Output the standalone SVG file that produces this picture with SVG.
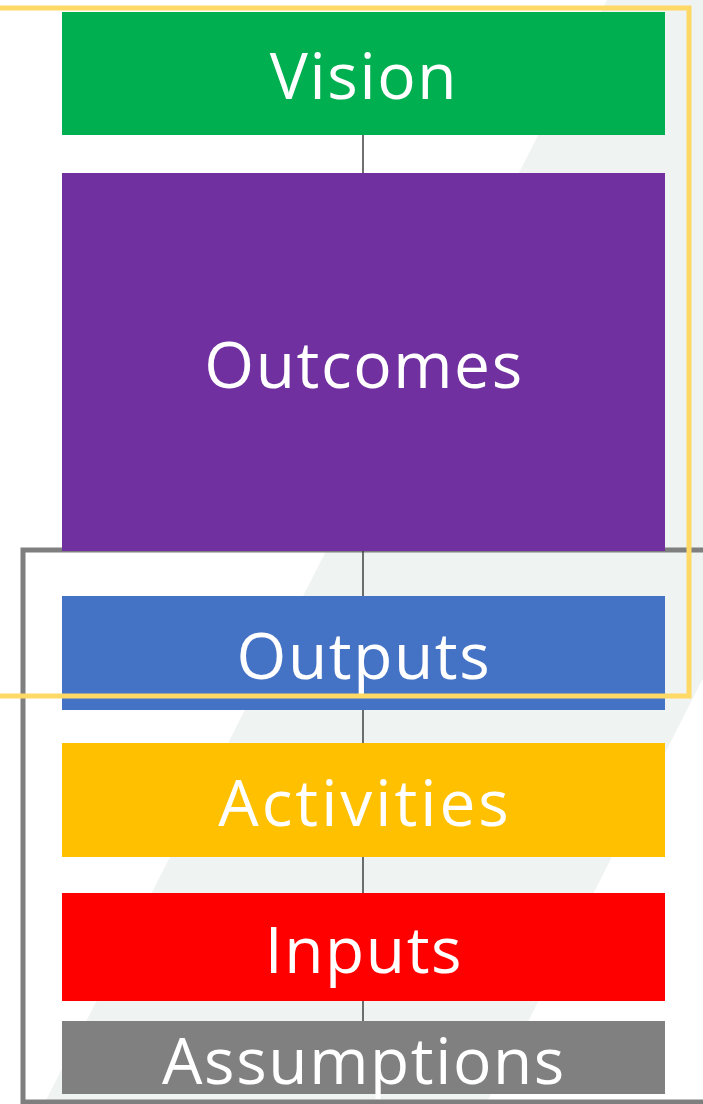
<svg xmlns="http://www.w3.org/2000/svg" width="703" height="1104" viewBox="0 0 703 1104">
<style>
.lbl{font-family:"Open Sans","Liberation Sans",sans-serif;font-size:64px;letter-spacing:1.6px;fill:#ffffff;text-anchor:middle}
.frame{fill:none}
</style>
<rect x="0" y="0" width="703" height="1104" fill="#ffffff"/>
<polygon points="607,0 1049,0 486,1104 44,1104" fill="#eff3f2"/>
<rect class="frame" x="23" y="550" width="720" height="552" stroke="#7f7f7f" stroke-width="5"/>
<g id="connectors">
<line x1="363" y1="130" x2="363" y2="1025" stroke="#404040" stroke-width="1.5"/>
</g>
<g id="vision"><rect x="62" y="12" width="603" height="123" fill="#00b050"/><text class="lbl" x="364" y="99">Vision</text></g>
<g id="outcomes"><rect x="62" y="173" width="603" height="378" fill="#7030a0"/><text class="lbl" x="364" y="388">Outcomes</text></g>
<g id="outputs"><rect x="62" y="596" width="603" height="114" fill="#4472c4"/><text class="lbl" x="364" y="679">Outputs</text></g>
<g id="activities"><rect x="62" y="743" width="603" height="114" fill="#ffc000"/><text class="lbl" x="365" y="826" style="letter-spacing:3px">Activities</text></g>
<g id="inputs"><rect x="62" y="893" width="603" height="108" fill="#ff0000"/><text class="lbl" x="364" y="973">Inputs</text></g>
<g id="assumptions"><rect x="62" y="1021" width="603" height="73" fill="#808080"/><text class="lbl" x="364" y="1084">Assumptions</text></g>
<rect class="frame" x="-10" y="8" width="699" height="688" stroke="#ffd966" stroke-width="5"/>
</svg>
